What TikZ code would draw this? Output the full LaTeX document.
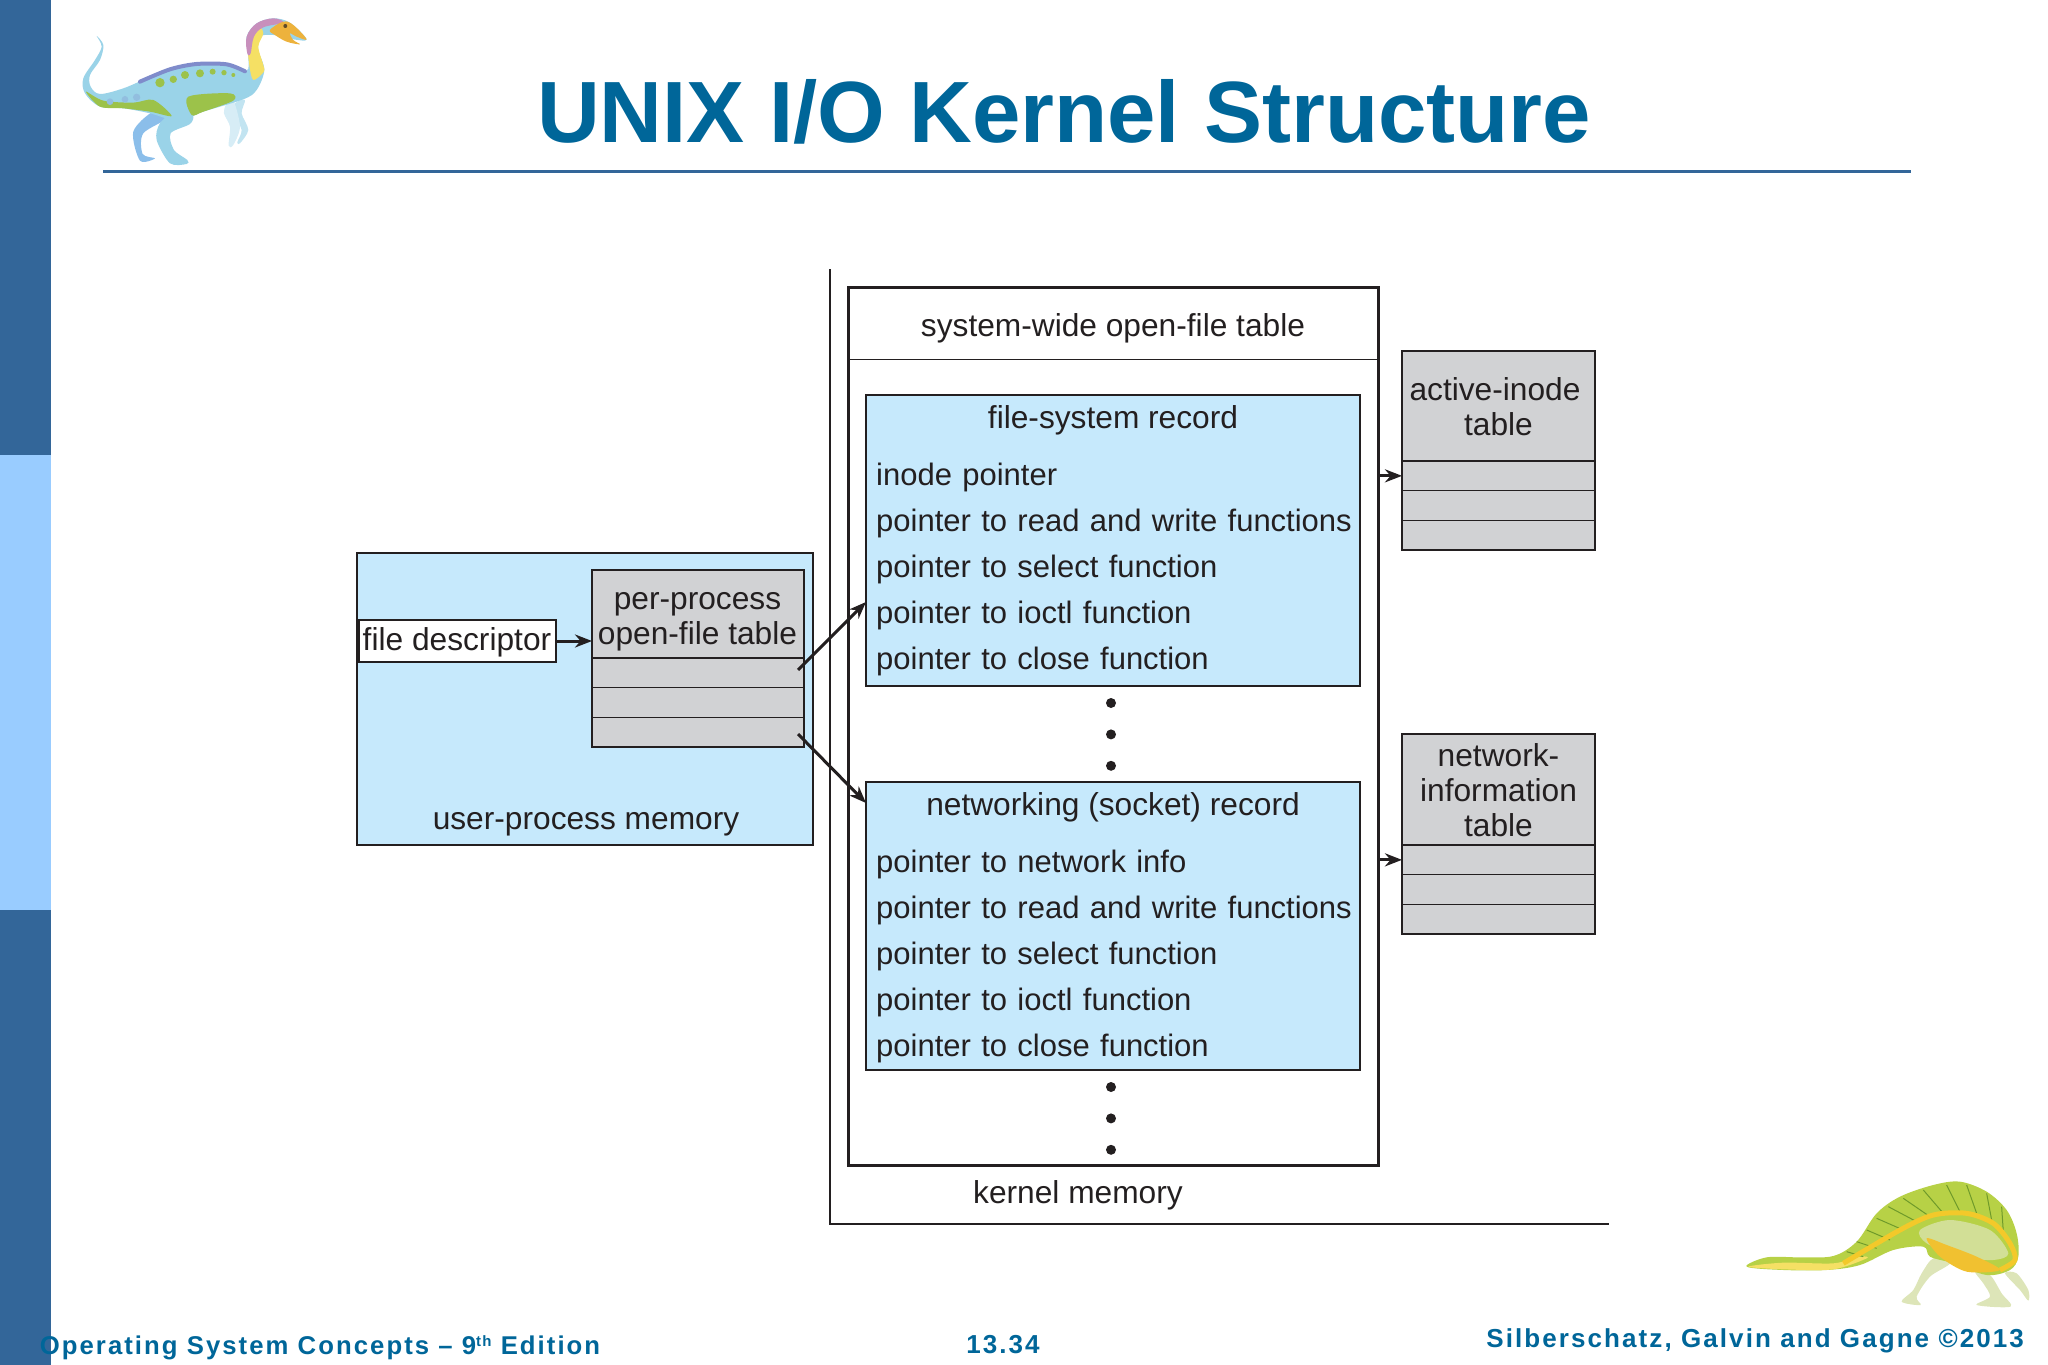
\documentclass[tikz,border=0pt]{standalone}
\usepackage{fontspec}
\setmainfont{Liberation Sans}
\newfontfamily\footfont[LetterSpace=8]{Liberation Sans}
\usepackage{xcolor}
\usepackage{tikz}
\usetikzlibrary{positioning, arrows.meta}
\definecolor{sidedark}{HTML}{336699}
\definecolor{sidelight}{HTML}{99CCFF}
\definecolor{titleblue}{HTML}{006699}
\definecolor{boxblue}{HTML}{C6E9FC}
\definecolor{cellgray}{HTML}{D1D2D4}
\definecolor{ink}{HTML}{231F20}
\definecolor{dinoblue}{HTML}{9AD3E8}
\definecolor{dinogreen}{HTML}{9CC24A}
\definecolor{dinopurple}{HTML}{7F8CCB}
\definecolor{dinoyellow}{HTML}{F5E064}
\definecolor{dinoorange}{HTML}{EDB23C}
\definecolor{dinopink}{HTML}{C88FBC}
\definecolor{spinegreen}{HTML}{B7D146}
\definecolor{spinedark}{HTML}{6F9A2A}
\definecolor{dinopale}{HTML}{DDE5B8}
\tikzset{
    labeltext/.style = {font=\fontsize{31.7}{35}\selectfont, text=ink, align=center, inner sep=0pt},
    rowtext/.style   = {font=\fontsize{31}{35}\selectfont, text=ink, align=left, inner sep=0pt, text width=484pt, text height=23pt, text depth=7pt},
    plainbox/.style  = {draw=ink, line width=1.3pt, outer sep=0pt, inner sep=0pt, labeltext},
    bluebox/.style   = {plainbox, fill=boxblue},
    grayhead/.style  = {plainbox, fill=cellgray},
    graycell/.style  = {plainbox, fill=cellgray, minimum height=29.7pt},
    dotmark/.style   = {circle, fill=ink, minimum size=10pt, inner sep=0pt},
    arrowline/.style = {draw=ink, line width=3pt, -{Stealth[length=17pt, width=13pt]}},
    foottext/.style  = {font=\footfont\bfseries\fontsize{26}{30}\selectfont, text=titleblue, inner sep=0pt}
}
\begin{document}
\begin{tikzpicture}[x=1pt, y=-1pt]
    \useasboundingbox (0,0) rectangle (2048,1365);

    % slide frame
    \fill[sidedark] (0,0) rectangle (51,1365);
    \fill[sidelight] (0,455) rectangle (51,910);
    \draw[sidedark, line width=3pt] (103,171) -- (1911,171);
    \node[font=\bfseries\fontsize{87}{100}\selectfont, text=titleblue, inner sep=0pt] (title) at (1064,112) {UNIX I/O Kernel Structure};

    % walking dinosaur
    \begin{scope}[x=0.3333pt, y=-0.3333pt]
        \fill[dinoblue!90!blue] plot[smooth cycle] coordinates {(460,335) (510,350) (430,400) (428,462) (465,475) (420,482) (400,395)};
        \fill[dinoblue] plot[smooth cycle] coordinates {(530,330) (578,345) (570,372) (512,400) (522,450) (562,480) (560,492) (510,490) (470,420) (480,370)};
        \fill[dinoblue!60!white] plot[smooth cycle] coordinates {(705,310) (735,300) (725,340) (745,390) (720,430) (712,427) (725,390) (703,345)};
        \fill[dinoblue!40!white] plot[smooth cycle] coordinates {(680,310) (700,300) (720,380) (700,435) (686,437) (690,380) (672,340)};
        \fill[dinoblue] plot[smooth cycle, tension=0.55] coordinates {(290,108) (310,135) (300,180) (270,225) (272,260) (300,282) (370,265) (440,235) (510,205) (590,188) (680,190) (740,212) (745,170) (740,110) (770,70) (820,55) (870,68) (920,118) (880,118) (820,105) (780,110) (775,150) (793,210) (770,270) (730,298) (610,335) (575,350) (520,360) (450,340) (370,325) (300,320) (255,280) (250,235) (285,180) (305,140)};
        \fill[dinogreen] plot[smooth cycle] coordinates {(258,275) (310,302) (400,308) (460,300) (515,348) (450,335) (370,325) (300,320)};
        \fill[dinogreen] plot[smooth cycle] coordinates {(565,290) (690,280) (700,302) (610,335) (575,345)};
        \fill[dinoblue!70!dinopurple] (330,305) circle [radius=10] (375,298) circle [radius=10] (410,292) circle [radius=11];
        \fill[dinogreen] (480,248) circle [radius=14] (520,238) circle [radius=11] (555,225) circle [radius=12] (600,220) circle [radius=12] (638,215) circle [radius=9] (672,218) circle [radius=8] (700,225) circle [radius=6];
        \draw[dinopurple, line width=4pt, line cap=round] plot[smooth] coordinates {(420,245) (510,208) (590,192) (680,193) (735,214)};
        \fill[dinoyellow] plot[smooth cycle] coordinates {(775,80) (745,130) (748,195) (760,240) (792,215) (790,195) (775,140) (790,100)};
        \fill[dinopink] plot[smooth cycle, tension=0.6] coordinates {(742,160) (740,110) (770,70) (820,55) (850,68) (790,82) (762,110) (752,160)};
        \fill[dinoorange] plot[smooth cycle, tension=0.6] coordinates {(810,90) (850,65) (880,75) (920,118) (890,110) (870,100) (880,120) (900,133) (860,125) (825,105)};
        \fill[ink!70!dinoorange] (856,78) circle [radius=6];
    \end{scope}

    % crouching dinosaur
    \begin{scope}[shift={(1700,1150)}, x=0.3333pt, y=-0.3333pt]
        \fill[dinopale] plot[smooth cycle] coordinates {(700,325) (750,340) (690,380) (650,440) (662,465) (605,455) (640,420) (665,370)};
        \fill[dinopale] plot[smooth cycle] coordinates {(825,365) (870,375) (905,430) (932,470) (830,465) (870,440) (850,400)};
        \fill[dinopale] plot[smooth cycle] coordinates {(915,370) (950,370) (985,420) (985,452) (960,420)};
        \fill[spinegreen] plot[smooth cycle, tension=0.55] coordinates {(140,350) (200,322) (300,322) (400,318) (470,275) (530,190) (600,140) (700,105) (780,95) (860,125) (920,180) (950,250) (955,320) (930,360) (860,375) (760,340) (690,320) (670,290) (580,300) (480,345) (380,360) (250,360)};
        \fill[dinoyellow] plot[smooth cycle] coordinates {(145,350) (250,338) (400,340) (480,320) (500,325) (400,358) (250,358)};
        \draw[spinedark, line width=1pt] (440,305) -- (490,320) (470,275) -- (530,295) (500,240) -- (570,270) (530,205) -- (610,240) (565,170) -- (650,215) (610,145) -- (690,200) (670,120) -- (730,190) (740,105) -- (780,185) (800,105) -- (830,190) (860,130) -- (875,210) (905,170) -- (910,245);
        \fill[dinopale!70!spinegreen] plot[smooth cycle] coordinates {(660,240) (750,210) (870,240) (925,310) (880,330) (780,320) (680,280)};
        \draw[dinoorange!70!yellow, line width=5pt] plot[smooth] coordinates {(430,340) (600,240) (700,195) (800,190) (880,220) (930,280) (945,330) (900,360)};
        \fill[dinoorange!80!yellow] plot[smooth cycle] coordinates {(680,265) (740,285) (830,320) (900,360) (800,365) (720,320)};
    \end{scope}

    % user side
    \node[bluebox, minimum width=456pt, minimum height=292pt, anchor=north west] (userbox) at (357,553) {};
    \node[labeltext] (userlabel) at (586,824.5) {user-process memory};
    \node[grayhead, minimum width=212pt, minimum height=88pt, anchor=north west] (pphead) at (592,570) {};
    \node[labeltext] (pplabel) at (697.5,622) {per-process\\open-file table};
    \node[graycell, minimum width=212pt, below=0pt of pphead] (ppa) {};
    \node[graycell, minimum width=212pt, below=0pt of ppa] (ppb) {};
    \node[graycell, minimum width=212pt, below=0pt of ppb] (ppc) {};
    \node[plainbox, fill=white, minimum width=197pt, minimum height=42pt, anchor=north west] (fd) at (359,620) {};
    \node[labeltext] (fdlabel) at (457,642) {file descriptor};

    % kernel side
    \node[draw=ink, line width=3pt, outer sep=0pt, minimum width=530pt, minimum height=878pt, anchor=north west] (kern) at (848,287) {};
    \node[labeltext, minimum height=72pt, below=0pt of kern.north] (syshead) {};
    \node[labeltext] (syslabel) at (1113,328.5) {system-wide open-file table};
    \draw[ink, line width=1.3pt] (syshead.south -| kern.west) -- (syshead.south -| kern.east);

    \node[bluebox, minimum width=494pt, minimum height=291pt, anchor=north west] (fsrec) at (866,395) {};
    \node[labeltext] (fstitle) at (1113,420.5) {file-system record};
    \node[rowtext, anchor=west] (fsa) at (876,477) {inode pointer};
    \node[rowtext, below=15.6pt of fsa] (fsb) {pointer to read and write functions};
    \node[rowtext, below=15.6pt of fsb] (fsc) {pointer to select function};
    \node[rowtext, below=15.6pt of fsc] (fsd) {pointer to ioctl function};
    \node[rowtext, below=15.6pt of fsd] (fse) {pointer to close function};

    \node[dotmark] (dota) at (1111,703) {};
    \node[dotmark, below=21pt of dota] (dotb) {};
    \node[dotmark, below=21pt of dotb] (dotc) {};

    \node[bluebox, minimum width=494pt, minimum height=288pt, anchor=north west] (netrec) at (866,782) {};
    \node[labeltext] (nettitle) at (1113,807) {networking (socket) record};
    \node[rowtext, anchor=west] (neta) at (876,864) {pointer to network info};
    \node[rowtext, below=15.6pt of neta] (netb) {pointer to read and write functions};
    \node[rowtext, below=15.6pt of netb] (netc) {pointer to select function};
    \node[rowtext, below=15.6pt of netc] (netd) {pointer to ioctl function};
    \node[rowtext, below=15.6pt of netd] (nete) {pointer to close function};

    \node[dotmark] (dotd) at (1111,1087) {};
    \node[dotmark, below=21pt of dotd] (dote) {};
    \node[dotmark, below=21pt of dote] (dotf) {};

    \node[labeltext] (kernlabel) at (1078,1195) {kernel memory};

    % boundary between the two memories
    \coordinate (bounda) at (830,269);
    \coordinate (boundb) at (830,1224);
    \coordinate (boundc) at (1609,1224);
    \draw[ink, line width=1.3pt] (bounda) -- (boundb) -- (boundc);

    % tables on the right
    \node[grayhead, minimum width=193pt, minimum height=110pt, anchor=north west] (inodehead) at (1402,351) {};
    \node[labeltext] (inodetop) at (1495,389) {active-inode};
    \node[labeltext, below=11pt of inodetop.south -| inodehead] (inodelow) {table};
    \node[graycell, minimum width=193pt, below=0pt of inodehead] (inodea) {};
    \node[graycell, minimum width=193pt, below=0pt of inodea] (inodeb) {};
    \node[graycell, minimum width=193pt, below=0pt of inodeb] (inodec) {};
    \node[grayhead, minimum width=193pt, minimum height=111pt, anchor=north west] (nethead) at (1402,734) {};
    \node[labeltext] (netlabel) at (1498.5,790.5) {network-\\information\\table};
    \node[graycell, minimum width=193pt, below=0pt of nethead] (netcella) {};
    \node[graycell, minimum width=193pt, below=0pt of netcella] (netcellb) {};
    \node[graycell, minimum width=193pt, below=0pt of netcellb] (netcellc) {};

    % connectors
    \coordinate (ppout) at (798,670);
    \coordinate (ppoutb) at (798,734);
    \coordinate (fsin) at (866,602);
    \coordinate (netin) at (866,803);
    \draw[arrowline] (fd.east) -- (fd.east -| pphead.west);
    \draw[arrowline] (ppout) -- (fsin);
    \draw[arrowline] (ppoutb) -- (netin);
    \draw[arrowline] (kern.east |- inodea) -- (inodea.west);
    \draw[arrowline] (kern.east |- netcella) -- (netcella.west);

    % footer
    \node[foottext, font=\footfont\bfseries\fontsize{25.7}{30}\selectfont] (footleft) at (320,1348) {Operating System Concepts – 9\raisebox{8pt}{\fontsize{15}{15}\selectfont th} Edition};
    \node[foottext] (footpage) at (1003,1345) {13.34};
    \node[foottext, anchor=east] (footright) at (2024,1341) {Silberschatz, Galvin and Gagne ©2013};
\end{tikzpicture}
\end{document}
